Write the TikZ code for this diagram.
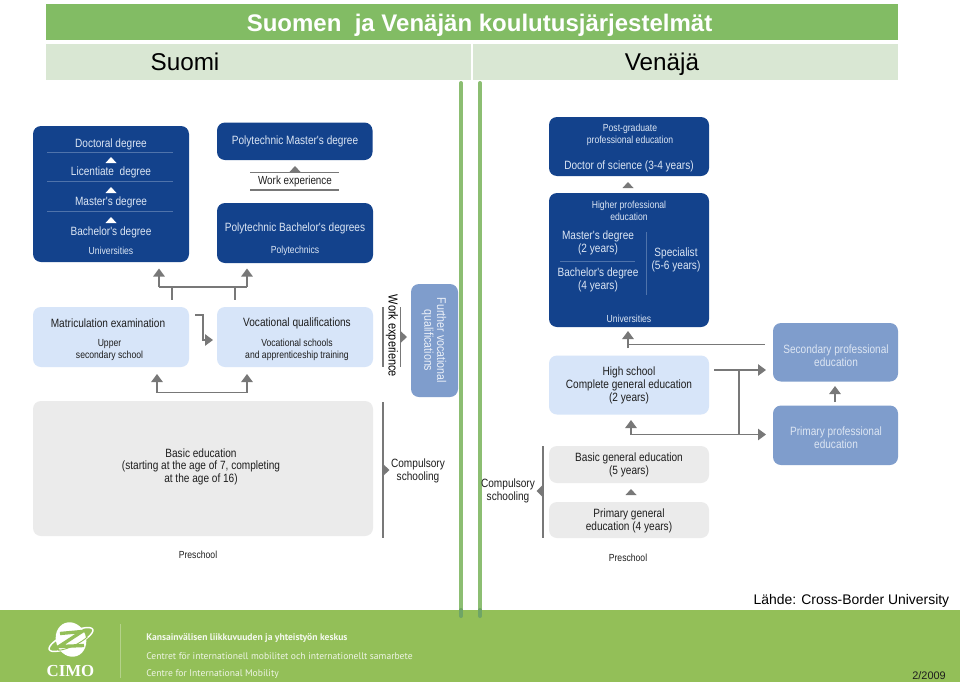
\documentclass[tikz,border=0pt]{standalone}
\usepackage{fontspec}
\setmainfont{Liberation Sans}
\newfontfamily\diagf[FakeStretch=0.84]{Liberation Sans}
\newfontfamily\footf{PT Sans}
\newfontfamily\logof{Liberation Serif}
\usetikzlibrary{arrows.meta,calc}
\definecolor{navy}{HTML}{13428C}
\definecolor{navytxt}{HTML}{DCE6F4}
\definecolor{lightb}{HTML}{D7E5F9}
\definecolor{midb}{HTML}{7F9DCC}
\definecolor{midtxt}{HTML}{DDE6F3}
\definecolor{greyb}{HTML}{EBEBEB}
\definecolor{conn}{HTML}{787878}
\definecolor{band}{HTML}{82BC64}
\definecolor{subband}{HTML}{D9E7D3}
\definecolor{foot}{HTML}{93BF58}
\definecolor{vline}{HTML}{8CBE72}
\definecolor{vtip}{HTML}{6FA566}
\definecolor{dtxt}{HTML}{1E1E1E}
\newcommand\ubox[6]{%
  \pgfmathsetmacro\bw{(#5-#3)*0.75}\pgfmathsetmacro\bh{(#6-#4)*0.75}%
  \node[#2,minimum width=\bw pt,minimum height=\bh pt] (#1) at ({(#3+#5)/2},{(#4+#6)/2}) {};}
\newcommand\tup[3]{\fill[#3] (#1-5.5,#2+3) -- (#1,#2-3) -- (#1+5.5,#2+3) -- cycle;}
\tikzset{
  x=0.75pt,y=-0.75pt,
  rbox/.style={rounded corners=6pt,inner sep=0pt,outer sep=0pt,draw=none,shape=rectangle},
  navybox/.style={rbox,fill=navy},
  lightbox/.style={rbox,fill=lightb},
  midbox/.style={rbox,fill=midb},
  greybox/.style={rbox,fill=greyb},
  flat/.style={inner sep=0pt,outer sep=0pt,draw=none,shape=rectangle,rounded corners=0pt},
  t0/.style={inner sep=0pt,align=center,text=dtxt,font=\diagf\fontsize{9}{9.6}\selectfont},
  t/.style={t0,yshift=-0.9pt},
  ts/.style={t,font=\diagf\fontsize{7.7}{9.2}\selectfont},
  tw/.style={t,text=navytxt},
  tws/.style={ts,text=navytxt},
  tm/.style={t,text=midtxt},
  cline/.style={draw=conn,line width=1.3pt},
  carrow/.style={cline,-{Triangle[length=6pt,width=8.5pt]}},
  thin sep/.style={draw=#1,line width=0.35pt},
  foott/.style={inner sep=0pt,anchor=west,text=#1,font=\footf\fontsize{7.2}{9}\selectfont},
}
\begin{document}
\begin{tikzpicture}
\useasboundingbox (0,0) rectangle (960,682);
\fill[white] (0,0) rectangle (960,682);
% header
\ubox{titleband}{flat,fill=band}{46}{4}{898}{40}
\ubox{subl}{flat,fill=subband}{46}{44}{471}{80}
\ubox{subr}{flat,fill=subband}{473}{44}{898}{80}
\node[inner sep=0pt,anchor=base,text=white,font=\bfseries\fontsize{18}{20}\selectfont] (title) at (479.5,31.5) {Suomen\ \ ja Venäjän koulutusjärjestelmät};
\node[inner sep=0pt,anchor=base,text=black,font=\fontsize{18.2}{20}\selectfont] (suomi) at (185,70.5) {Suomi};
\node[inner sep=0pt,anchor=base,text=black,font=\fontsize{18.2}{20}\selectfont] (venaja) at (662,70.5) {Venäjä};
% footer
\ubox{footer}{flat,fill=foot}{0}{610}{960}{682}
\draw[vline,line width=3pt,line cap=round] (461,83) coordinate (vl1) -- (461,610) coordinate (vl2);
\draw[vline,line width=3pt,line cap=round] (480,83) coordinate (vr1) -- (480,610) coordinate (vr2);
\draw[vtip,line width=3pt,line cap=round] (vl2) -- (461,616);
\draw[vtip,line width=3pt,line cap=round] (vr2) -- (480,616);
% Finland boxes
\ubox{doc}{navybox}{33}{126}{189}{262}
\ubox{pmaster}{navybox}{217}{122.5}{372.5}{160}
\ubox{pbach}{navybox}{217}{203}{373}{263}
\ubox{matric}{lightbox}{33}{307}{189}{367}
\ubox{voc}{lightbox}{217}{307}{373}{367}
\ubox{further}{midbox}{411}{284}{458}{397}
\ubox{basic}{greybox}{33}{401}{373}{536}
\foreach \yy in {152,181,211}{\draw[thin sep=navytxt!30!navy] (47,\yy) -- (173,\yy);}
\node[tw] (d1) at (111,143) {Doctoral degree};
\node[tw] (d2) at (111,171.5) {Licentiate\ \ degree};
\node[tw] (d3) at (111,201.5) {Master's degree};
\node[tw] (d4) at (111,231) {Bachelor's degree};
\node[tws] (d5) at (111,250) {Universities};
\tup{111}{160}{white}\tup{111}{190}{white}\tup{111}{220}{white}
\node[tw] (p1) at (295,140) {Polytechnic Master's degree};
\node[tw] (p2) at (295,227) {Polytechnic Bachelor's degrees};
\node[tws] (p3) at (295,250) {Polytechnics};
\node[t] (m1) at (108,322) {Matriculation examination};
\node[ts] (m2) at (109.5,348.5) {Upper\\secondary school};
\node[t] (v1) at (297,322) {Vocational qualifications};
\node[ts] (v2) at (297,348.5) {Vocational schools\\and apprenticeship training};
\node[t0,rotate=-90,text=midtxt!60!white,font=\diagf\fontsize{9.5}{9.6}\selectfont] (f1) at (434,340.5) {Further vocational\\qualifications};
\node[t] (b1) at (201,465.5) {Basic education\\(starting at the age of 7, completing\\at the age of 16)};
\node[t,font=\diagf\fontsize{8.8}{9.6}\selectfont] (we1) at (295,180.5) {Work experience};
\draw[cline] (250,172.5) coordinate (wa1) -- (339,172.5) coordinate (wa2);
\draw[cline] (250,190) coordinate (wb1) -- (339,190) coordinate (wb2);
\tup{295}{169}{conn}
% connectors Finland
\coordinate (jl) at (159,287); \coordinate (jr) at (247,287);
\coordinate (sl) at (172,287); \coordinate (sr) at (235,287);
\draw[carrow] (jl) -- (159,268.5);
\draw[carrow] (jr) -- (247,268.5);
\draw[cline] (jl) -- (jr);
\draw[cline] (sl) -- (172,299.5);
\draw[cline] (sr) -- (235,299.5);
\coordinate (ms) at (195,315); \coordinate (mc) at (203,315); \coordinate (md) at (203,340); \coordinate (mt) at (213,340);
\draw[carrow] (ms) -- (mc) -- (md) -- (mt);
\coordinate (bl) at (157,392.5); \coordinate (br) at (247,392.5);
\draw[carrow] (bl) -- (157,374);
\draw[carrow] (br) -- (247,374);
\draw[cline] (bl) -- (br);
\draw[cline] (383,307) coordinate (wl1) -- (383,367) coordinate (wl2);
\draw[cline] (400.5,307) coordinate (wr1) -- (400.5,367) coordinate (wr2);
\node[t0,rotate=-90,text=black,font=\diagf\fontsize{9.8}{9.6}\selectfont] (we2) at (392,336) {Work experience};
\fill[conn] (400.5,331) -- (407,337) -- (400.5,343) -- cycle;
\draw[cline] (383,402) coordinate (cl1) -- (383,538) coordinate (cl2);
\fill[conn] (383,464) -- (389.5,470) -- (383,476) -- cycle;
\node[t] (c1) at (418,469.5) {Compulsory\\schooling};
\node[ts] (pre1) at (198,554) {Preschool};
% Russia boxes
\ubox{post}{navybox}{549}{117}{709}{176}
\ubox{higher}{navybox}{549}{193}{709}{327}
\ubox{high}{lightbox}{549}{355.5}{709}{414.5}
\ubox{sec}{midbox}{773}{323}{898}{381.5}
\ubox{prim}{midbox}{773}{405.5}{898}{465}
\ubox{bgen}{greybox}{549}{446}{709}{483}
\ubox{pgen}{greybox}{549}{502}{709}{538}
\node[tws] (r1) at (630,133.5) {Post-graduate\\professional education};
\node[tw] (r2) at (629,165) {Doctor of science (3-4 years)};
\node[tws] (r3) at (629,209.5) {Higher professional\\education};
\node[t,text=navytxt] (r4) at (598,242) {Master's degree\\(2 years)};
\node[t,text=navytxt] (r5) at (598,279) {Bachelor's degree\\(4 years)};
\node[t,text=navytxt] (r6) at (676,258.5) {Specialist\\(5-6 years)};
\node[tws] (r7) at (629,317.5) {Universities};
\draw[thin sep=navytxt!30!navy] (646,232) -- (646,295);
\draw[thin sep=navytxt!30!navy] (560,261) -- (635,261);
\node[t] (h1) at (629,384) {High school\\Complete general education\\(2 years)};
\node[tm] (s1) at (836,354.5) {Secondary professional\\education};
\node[tm] (s2) at (836,436.5) {Primary professional\\education};
\node[t] (g1) at (629,464) {Basic general education\\(5 years)};
\node[t] (g2) at (629,519.5) {Primary general\\education (4 years)};
\node[t] (c2) at (508,489.5) {Compulsory\\schooling};
\node[ts] (pre2) at (628,556.5) {Preschool};
% connectors Russia
\tup{628}{185}{conn}
\tup{631}{492}{conn}
\coordinate (ra) at (628,344.5);
\draw[carrow] (628,348) -- (628,331);
\draw[cline] (ra) -- (765,344.5);
\coordinate (hs) at (714,370); \coordinate (hj) at (738.7,370); \coordinate (hb) at (738.7,434.5);
\coordinate (sl2) at (631,434.5);
\draw[carrow] (hs) -- (766,370);
\draw[cline] (hj) -- (hb);
\draw[carrow] (sl2) -- (766,434.5);
\draw[carrow] (sl2) -- (631,420);
\draw[carrow] (835,402) -- (835,386);
\draw[cline] (542.7,446) coordinate (cr1) -- (542.7,538) coordinate (cr2);
\fill[conn] (542.7,485) -- (536.5,491) -- (542.7,497) -- cycle;
% source
\node[inner sep=0pt,anchor=east,text=black,font=\fontsize{10.45}{12}\selectfont] (src) at (949.5,600.5) {Lähde: Cross-Border University};
% logo
\begin{scope}[shift={(71,639.5)}]
\draw[white,line width=1.1pt,rotate=25] (0,0) ellipse[x radius=24,y radius=7];
\fill[white,rotate=20] (0,0) ellipse[x radius=15,y radius=17.5];
\draw[foot,line width=2.5pt,line join=miter] (-11,-6) -- (11,-8) -- (-12,7) -- (13,6);
\draw[foot,line width=0.7pt,rotate=25] (-16,4.5) .. controls (-8,7.5) and (8,7.5) .. (16,4.5);
\end{scope}
\node[inner sep=0pt,text=white,font=\logof\bfseries\fontsize{12.6}{16}\selectfont] (cimo) at (70.5,671.5) {CIMO};
\draw[foot!70!white,line width=0.6pt] (120.5,624) coordinate (ft1) -- (120.5,678) coordinate (ft2);
\node[foott=white!90!foot,font=\footf\bfseries\fontsize{7.2}{9}\selectfont] (ft3) at (146,638) {Kansainvälisen liikkuvuuden ja yhteistyön keskus};
\node[foott=white!85!foot] (ft4) at (146,656) {Centret för internationell mobilitet och internationellt samarbete};
\node[foott=white!85!foot] (ft5) at (146,674) {Centre for International Mobility};
\node[inner sep=0pt,anchor=east,text=dtxt,font=\fontsize{8.2}{10}\selectfont] (date) at (946,676) {2/2009};
\end{tikzpicture}
\end{document}
